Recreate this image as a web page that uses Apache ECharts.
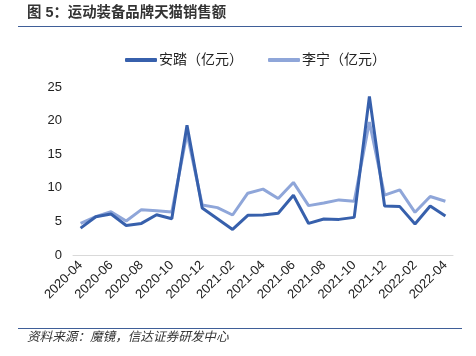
<!DOCTYPE html>
<html><head><meta charset="utf-8">
<script src="https://cdn.jsdelivr.net/npm/echarts@6/dist/echarts.min.js"></script>
<style>html,body{margin:0;padding:0;background:#fff}#c{width:476px;height:356px}</style>
</head><body><div id="c"></div>
<script>
const months = ['2020-04','2020-05','2020-06','2020-07','2020-08','2020-09','2020-10','2020-11','2020-12',
'2021-01','2021-02','2021-03','2021-04','2021-05','2021-06','2021-07','2021-08','2021-09','2021-10','2021-11','2021-12',
'2022-01','2022-02','2022-03','2022-04'];
const anta = [4.0,5.7,6.1,4.4,4.7,6.0,5.4,19.3,7.0,5.4,3.8,5.9,5.95,6.2,8.9,4.7,5.35,5.3,5.6,23.6,7.3,7.2,4.6,7.3,5.8];
const lining = [4.7,5.7,6.45,5.05,6.75,6.6,6.4,18.1,7.45,7.05,5.95,9.2,9.8,8.4,10.8,7.35,7.75,8.2,8.0,19.8,8.9,9.7,6.35,8.7,8.0];
const yTicks = [0,5,10,15,20,25];
const names = ['安踏（亿元）','李宁（亿元）'];
const titleText = '图 5：运动装备品牌天猫销售额';
const sourceText = '资料来源：魔镜，信达证券研发中心';

const cjk = '"Liberation Sans", "Noto Sans CJK SC", sans-serif';
const chart = echarts.init(document.getElementById('c'));
chart.setOption({
  animation: false,
  textStyle: {fontFamily: cjk},
  grid: {left: 73, top: 87, width: 380, height: 168, containLabel: false},
  legend: {
    left: 120, top: 48, itemGap: 25, itemWidth: 32, itemHeight: 4, icon: 'roundRect',
    textStyle: {fontSize: 14, color: '#222', fontFamily: cjk, padding: [0,0,0,-3]},
    data: names
  },
  xAxis: {
    type: 'category', data: months, boundaryGap: true,
    axisLine: {lineStyle: {color: '#d9d9d9', width: 1}},
    axisTick: {interval: 1, length: 5, lineStyle: {color: '#d9d9d9'}},
    axisLabel: {interval: 1, rotate: 45, fontSize: 13, color: '#222', margin: 8, fontFamily: '"Liberation Sans", sans-serif'}
  },
  yAxis: {
    type: 'value', min: 0, max: 25, interval: 5,
    axisLine: {show: false}, axisTick: {show: false}, splitLine: {show: false},
    axisLabel: {fontSize: 13, color: '#222', margin: 11, fontFamily: '"Liberation Sans", sans-serif',
      formatter: v => yTicks.includes(v) ? String(v) : ''}
  },
  series: [
    {name: names[0], type: 'line', data: anta, symbol: 'none', z: 3,
     lineStyle: {color: '#3760AC', width: 3}, itemStyle: {color: '#3760AC'}},
    {name: names[1], type: 'line', data: lining, symbol: 'none', z: 2,
     lineStyle: {color: '#8FA6D9', width: 3}, itemStyle: {color: '#8FA6D9'}}
  ],
  graphic: [
    {type: 'text', left: 27, top: 6, style: {text: titleText, fontSize: 14.4, fontWeight: 'bold', fill: '#333', fontFamily: cjk}},
    {type: 'line', shape: {x1: 18, y1: 26.5, x2: 462, y2: 26.5}, style: {stroke: '#3F5E98', lineWidth: 1}},
    {type: 'line', shape: {x1: 18, y1: 328.5, x2: 462, y2: 328.5}, style: {stroke: '#3F5E98', lineWidth: 1}},
    {type: 'text', left: 27, top: 331, style: {text: sourceText, fontSize: 12.6, fontStyle: 'italic', fill: '#333', fontFamily: cjk}}
  ]
});
</script></body></html>
